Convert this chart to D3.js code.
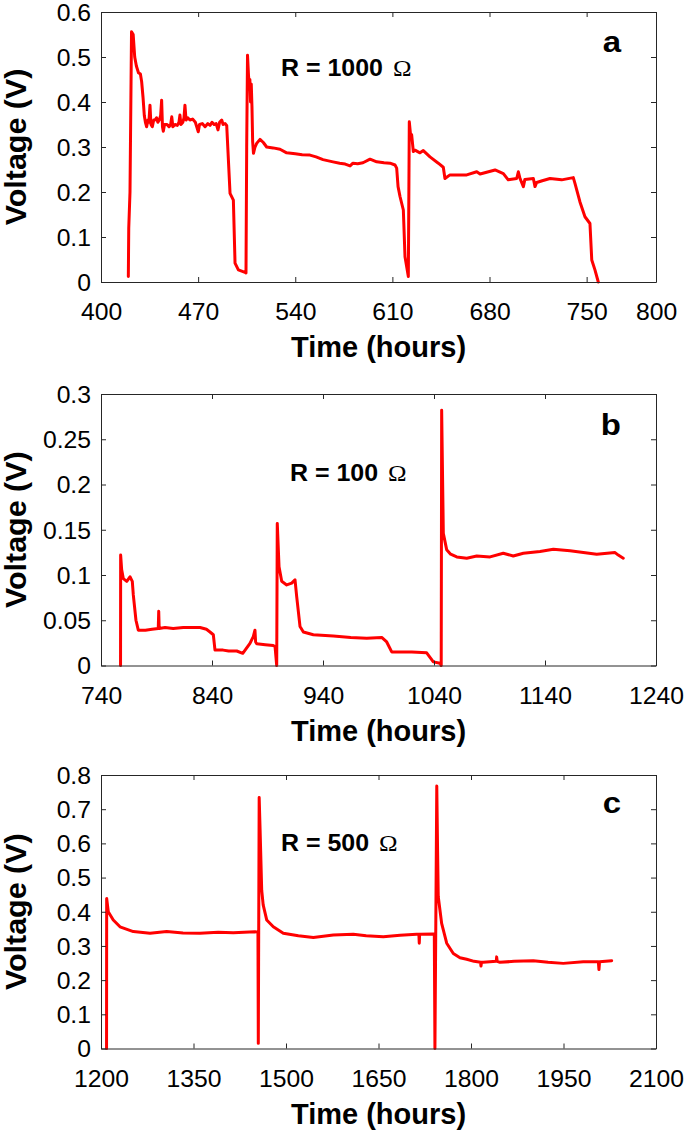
<!DOCTYPE html>
<html><head><meta charset="utf-8">
<script src="https://cdn.jsdelivr.net/npm/d3@7"></script>
<style>body{margin:0;background:#fff}</style>
</head><body>
<svg id="chart" width="685" height="1136"></svg>
<script>
// ---------- DATA ----------
const timeA = [419.7,420.0,420.9,422.0,423.2,424.3,425.5,427.0,428.4,429.3,430.3,431.2,432.0,432.9,433.8,434.5,435.3,436.0,437.0,438.0,438.9,440.0,441.0,442.0,443.0,443.7,444.3,444.9,445.8,447.6,449.0,450.2,451.0,451.8,453.3,455.0,456.2,456.9,457.6,459.0,459.8,460.5,461.3,462.5,464.1,466.0,468.0,469.0,470.1,471.0,473.0,475.0,477.0,478.6,480.0,481.5,483.0,484.3,485.5,487.0,488.0,489.4,490.6,493.0,495.4,496.6,499.0,503.8,504.5,505.0,505.6,506.3,506.8,507.3,507.8,508.3,508.8,509.3,509.9,511.0,512.2,514.6,517.0,519.4,524.0,529.0,533.8,540.0,545.0,550.6,555.0,560.0,567.2,572.0,576.0,579.5,581.6,585.0,588.8,593.9,598.7,604.0,608.3,611.9,613.1,614.1,615.5,617.9,619.1,621.5,622.2,623.0,623.9,625.1,626.3,629.9,632.3,637.1,643.1,646.7,647.9,651.5,663.6,670.8,673.2,684.0,690.0,693.5,699.6,700.8,702.0,704.4,705.5,711.6,712.8,714.0,718.0,723.6,732.0,740.4,741.6,745.2,748.8,752.4,753.7,756.0,758.4];
const voltA = [0.012,0.12,0.2,0.556,0.55,0.50,0.48,0.465,0.462,0.445,0.41,0.37,0.355,0.345,0.36,0.355,0.393,0.35,0.345,0.36,0.36,0.365,0.355,0.36,0.37,0.404,0.345,0.335,0.35,0.35,0.345,0.35,0.367,0.345,0.35,0.348,0.355,0.371,0.35,0.355,0.365,0.393,0.36,0.365,0.36,0.362,0.355,0.345,0.334,0.35,0.352,0.345,0.352,0.348,0.355,0.35,0.352,0.338,0.355,0.36,0.35,0.352,0.348,0.197,0.182,0.042,0.027,0.0215,0.02,0.30,0.504,0.46,0.44,0.45,0.40,0.44,0.39,0.312,0.286,0.30,0.308,0.317,0.31,0.30,0.298,0.295,0.287,0.285,0.283,0.282,0.278,0.272,0.267,0.264,0.262,0.258,0.264,0.263,0.265,0.273,0.267,0.265,0.264,0.26,0.253,0.212,0.19,0.16,0.056,0.012,0.356,0.33,0.327,0.29,0.293,0.287,0.292,0.278,0.264,0.255,0.23,0.238,0.238,0.245,0.24,0.249,0.241,0.227,0.23,0.245,0.23,0.212,0.228,0.23,0.212,0.221,0.225,0.23,0.227,0.232,0.219,0.178,0.145,0.13,0.049,0.027,0];

const timeB = [757.6,757.7,758.6,760.1,763.2,766.1,768.2,769.1,771.5,773.6,780,786,791.6,792,792.4,797.7,805,814.1,829.2,835,838.2,841.2,842.7,850,855,862.3,867.7,874.2,877.2,878.7,879.3,880.3,888,895.2,896.8,898.3,898.8,900.4,902.8,907.3,911.8,914.8,916.3,919.3,922.3,931.3,949.3,965,979.4,992.9,997.4,1001.9,1006.4,1020,1033.4,1039.4,1045.4,1046.5,1046.9,1048.4,1051.4,1055,1060.5,1069.5,1078.5,1090.5,1102.4,1111.4,1120.5,1135.5,1147.5,1162.5,1186.6,1203.1,1206,1210.5];
const voltB = [0,0.122,0.106,0.096,0.093,0.098,0.093,0.078,0.05,0.039,0.039,0.040,0.041,0.06,0.041,0.042,0.041,0.042,0.042,0.040,0.037,0.034,0.017,0.017,0.016,0.016,0.0135,0.0245,0.032,0.039,0.026,0.024,0.023,0.022,0.021,0,0.157,0.109,0.093,0.089,0.091,0.0946,0.076,0.043,0.037,0.034,0.0326,0.031,0.030,0.031,0.026,0.015,0.015,0.015,0.014,0.004,0.0024,0,0.282,0.146,0.128,0.123,0.12,0.1186,0.121,0.120,0.124,0.121,0.124,0.126,0.1285,0.1267,0.123,0.1248,0.122,0.1186];

const timeC = [1209,1209.2,1211.8,1219.9,1230.8,1252.4,1279.5,1306.5,1333,1360.5,1390,1414.5,1449.7,1454.5,1455.1,1456.5,1458,1460.6,1463,1468.7,1479.4,1495.6,1520,1544.3,1576.7,1609.1,1630,1657.8,1685,1711.9,1715.5,1716.1,1716.7,1738.8,1740.5,1741.5,1744.5,1745.8,1746.9,1752.4,1760.6,1771.3,1782.1,1793,1805,1815.5,1816.2,1817,1819.9,1841,1841.6,1842.5,1847,1870,1901,1925,1949.6,1982,2006.5,2007.5,2008.5,2028.1];
const voltC = [0,0.439,0.40,0.376,0.356,0.342,0.337,0.342,0.338,0.337,0.34,0.3386,0.3415,0.34,0.015,0.734,0.639,0.463,0.42,0.376,0.356,0.337,0.33,0.325,0.332,0.334,0.33,0.327,0.331,0.334,0.334,0.308,0.334,0.335,0.335,0,0.768,0.58,0.444,0.366,0.308,0.278,0.2655,0.261,0.255,0.252,0.241,0.252,0.252,0.255,0.268,0.255,0.252,0.255,0.257,0.252,0.249,0.254,0.254,0.231,0.254,0.257];

const xTicksA = [400,470,540,610,680,750,800];
const yTicksA = [0,0.1,0.2,0.3,0.4,0.5,0.6];
const xTicksB = [740,840,940,1040,1140,1240];
const yTicksB = [0,0.05,0.1,0.15,0.2,0.25,0.3];
const xTicksC = [1200,1350,1500,1650,1800,1950,2100];
const yTicksC = [0,0.1,0.2,0.3,0.4,0.5,0.6,0.7,0.8];
const letters = ["a","b","c"];
const resist = ["1000","100","500"];
const xTitle = "Time (hours)";
const yTitle = "Voltage (V)";

// ---------- LAYOUT ----------
const L = 101, R = 656;
const layout = [
  {t: timeA, v: voltA, xd: [400,800], xt: xTicksA, yd: [0,0.6], yt: yTicksA, top: 12, bot: 282, lx: 281, ly: 76, gy: 52},
  {t: timeB, v: voltB, xd: [740,1240], xt: xTicksB, yd: [0,0.3], yt: yTicksB, top: 394, bot: 665.5, lx: 290, ly: 481, gy: 435},
  {t: timeC, v: voltC, xd: [1200,2100], xt: xTicksC, yd: [0,0.8], yt: yTicksC, top: 775, bot: 1048.5, lx: 281, ly: 851, gy: 813}
];
const FONT = "'Liberation Sans', Arial, Helvetica, sans-serif";
const AX = "#262626";
const svg = d3.select("#chart");

function stretch(sel, k) {
  sel.each(function() {
    const w = this.getComputedTextLength();
    if (w > 0) { this.setAttribute("textLength", w * k); this.setAttribute("lengthAdjust", "spacingAndGlyphs"); }
  });
}
const fmt = d => String(+(+d).toFixed(2));

layout.forEach((p, i) => {
  const x = d3.scaleLinear().domain(p.xd).range([L, R]);
  const y = d3.scaleLinear().domain(p.yd).range([p.bot, p.top]);
  const g = svg.append("g");

  // data line
  const pts = p.t.map((tt, j) => [tt, p.v[j]]);
  g.append("path").datum(pts)
    .attr("fill", "none").attr("stroke", "#ff0000").attr("stroke-width", 3)
    .attr("stroke-linejoin", "round").attr("stroke-linecap", "round")
    .attr("d", d3.line().x(d => x(d[0])).y(d => y(d[1])));

  // axes (MATLAB box, inward ticks)
  const styleAxis = s => { s.selectAll("path, line").attr("stroke", AX).attr("stroke-width", 1); };
  const bx = g.append("g").attr("transform", `translate(0,${p.bot})`)
    .call(d3.axisBottom(x).tickValues(p.xt).tickSize(-5).tickSizeOuter(0).tickFormat(d => d).tickPadding(0));
  const tx = g.append("g").attr("transform", `translate(0,${p.top})`)
    .call(d3.axisTop(x).tickValues(p.xt).tickSize(-5).tickSizeOuter(0).tickFormat(""));
  const ly = g.append("g").attr("transform", `translate(${L},0)`)
    .call(d3.axisLeft(y).tickValues(p.yt).tickSize(-5).tickSizeOuter(0).tickFormat(fmt).tickPadding(10));
  const ry = g.append("g").attr("transform", `translate(${R},0)`)
    .call(d3.axisRight(y).tickValues(p.yt).tickSize(-5).tickSizeOuter(0).tickFormat(""));
  [bx, tx, ly, ry].forEach(styleAxis);

  bx.selectAll("text").attr("font-family", FONT).attr("font-size", 24).attr("fill", "#000")
    .attr("dy", null).attr("y", 38);
  ly.selectAll("text").attr("font-family", FONT).attr("font-size", 24).attr("fill", "#000")
    .attr("dy", "0.35em");
  stretch(bx.selectAll("text"), 1.03);
  stretch(ly.selectAll("text"), 1.03);

  // x title
  g.append("text").attr("x", (L + R) / 2).attr("y", p.bot + 75)
    .attr("text-anchor", "middle").attr("font-family", FONT).attr("font-weight", "bold")
    .attr("font-size", 29).text(xTitle);

  // y title
  const yt = g.append("text").attr("transform", `translate(26,${(p.top + p.bot) / 2}) rotate(-90)`)
    .attr("text-anchor", "middle").attr("font-family", FONT).attr("font-weight", "bold")
    .attr("font-size", 29).text(yTitle);
  stretch(yt, 1.05);

  // panel letter
  const lt = g.append("text").attr("x", 621).attr("y", p.gy).attr("text-anchor", "end")
    .attr("font-family", FONT).attr("font-weight", "bold").attr("font-size", 30).text(letters[i]);
  stretch(lt, 1.1);

  // resistance annotation
  const an = g.append("g").attr("transform", `translate(${p.lx},${p.ly}) scale(1.04,1)`);
  const at = an.append("text").attr("font-family", FONT).attr("font-weight", "bold").attr("font-size", 24);
  at.append("tspan").text(`R = ${resist[i]} `);
  at.append("tspan").attr("font-family", "'Liberation Serif', 'DejaVu Serif', serif")
    .attr("font-weight", "normal").attr("dx", 3).text("Ω");
});
</script>
</body></html>
